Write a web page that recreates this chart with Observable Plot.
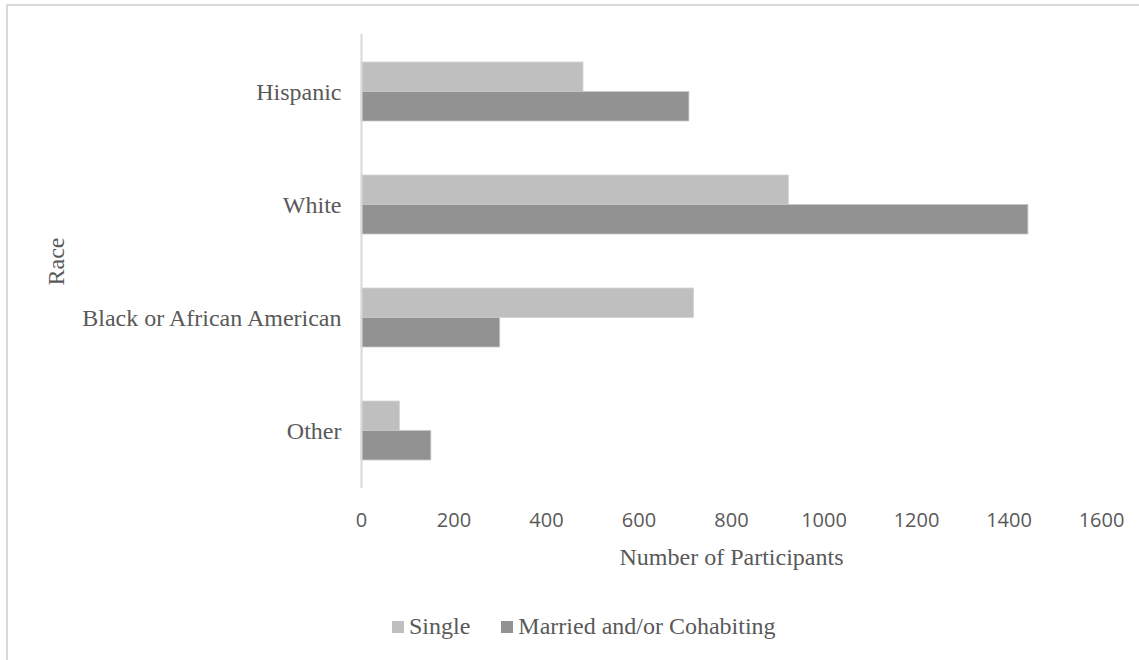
<!DOCTYPE html>
<html>
<head>
<meta charset="utf-8">
<script src="https://cdn.jsdelivr.net/npm/d3@7"></script>
<script src="https://cdn.jsdelivr.net/npm/@observablehq/plot@0.6"></script>
<style>
  html, body { margin: 0; padding: 0; background: #fff; }
  #chart { position: relative; width: 1139px; height: 660px; overflow: hidden; }
  #frame { position: absolute; left: 6px; top: 4px; width: 1200px; height: 700px;
           border-left: 2px solid #d9d9d9; border-top: 2px solid #d9d9d9; pointer-events: none; }
  #plot { position: absolute; left: 0; top: 0; }
  #legend { position: absolute; left: 392px; top: 613px; display: flex; align-items: center;
            font-family: "Liberation Serif", "Times New Roman", serif; font-size: 24px; color: #595959; }
  .sw { display: inline-block; width: 12px; height: 12px; margin-right: 5px; }
  .item { display: flex; align-items: center; margin-right: 31px; }
</style>
</head>
<body>
<div id="chart">
  <div id="frame"></div>
  <div id="plot"></div>
  <div id="legend"></div>
</div>
<script>
// Participants by race and relationship status
const races = ["Hispanic", "White", "Black or African American", "Other"];
const single = [480, 924, 719, 83];
const married = [709, 1442, 300, 151];
const seriesNames = ["Single", "Married and/or Cohabiting"];
const seriesColors = ["#bfbfbf", "#929292"];
const xTicks = [0, 200, 400, 600, 800, 1000, 1200, 1400, 1600];

const rows = races.map((r, i) => ({race: r, single: single[i], married: married[i]}));

const W = 1139, H = 600;
const mTop = 34, mBottom = 112, mLeft = 361, mRight = 38;
const pInner = 0.48, pOuter = 0.24;
const step = (H - mTop - mBottom) / (races.length - pInner + 2 * pOuter);
const half = step * (1 - pInner) / 2;

const serif = "'Liberation Serif', 'Times New Roman', serif";

const chart = Plot.plot({
  width: W,
  height: H,
  marginTop: mTop,
  marginBottom: mBottom,
  marginLeft: mLeft,
  marginRight: mRight,
  style: {color: "#595959", background: "transparent"},
  x: {domain: [0, 1600]},
  y: {domain: races, paddingInner: pInner, paddingOuter: pOuter},
  marks: [
    Plot.barX(rows, {x: "single", y: "race", fill: seriesColors[0], insetBottom: half,
                     stroke: "#d4d4d4", strokeWidth: 0.8}),
    Plot.barX(rows, {x: "married", y: "race", fill: seriesColors[1], insetTop: half,
                     stroke: "#c8c8c8", strokeWidth: 0.8}),
    Plot.ruleX([0], {stroke: "#d9d9d9", strokeWidth: 2}),
    Plot.axisX({ticks: xTicks, tickFormat: "d", tickSize: 0, tickPadding: 24, label: null,
                fontFamily: "'Open Sans', sans-serif", fontSize: 20, fill: "#595959"}),
    Plot.axisX({ticks: [], tickSize: 0, label: "Number of Participants", labelAnchor: "center",
                labelArrow: "none", labelOffset: 76, fontFamily: serif, fontSize: 24, fill: "#595959"}),
    Plot.axisY({tickSize: 0, tickPadding: 20, label: null, fontFamily: serif, fontSize: 24, fill: "#595959"}),
    Plot.axisY({ticks: [], tickSize: 0, label: "Race", labelAnchor: "center", labelArrow: "none",
                labelOffset: 315, fontFamily: serif, fontSize: 24, fill: "#595959"})
  ]
});
document.getElementById("plot").appendChild(chart);

const legend = document.getElementById("legend");
seriesNames.forEach((name, i) => {
  const item = document.createElement("span");
  item.className = "item";
  const sw = document.createElement("span");
  sw.className = "sw";
  sw.style.background = seriesColors[i];
  item.appendChild(sw);
  item.appendChild(document.createTextNode(name));
  legend.appendChild(item);
});
</script>
</body>
</html>
